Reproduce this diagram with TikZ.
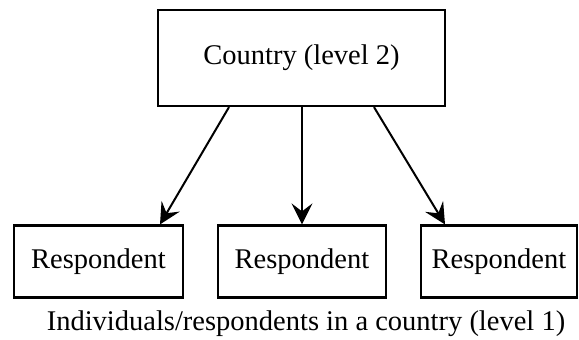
\documentclass[tikz,border=0pt]{standalone}
\usepackage{fontspec}
\setmainfont{Liberation Serif}
\usetikzlibrary{arrows.meta}
\begin{document}
\begin{tikzpicture}[x=1pt,y=-1pt,
  box/.style={draw, line width=2.2pt, inner sep=0pt, font=\fontsize{28.5pt}{34pt}\selectfont},
  conn/.style={line width=2pt, -{Stealth[length=21pt,width=21pt,inset=8pt]}},
  lbl/.style={inner sep=0pt, font=\fontsize{28.5pt}{34pt}\selectfont}]
\useasboundingbox (0,0) rectangle (579,340);
\node[box, minimum width=287pt, minimum height=96pt] (top) at (301.5,58) {Country (level 2)};
\node[box, minimum width=169pt, minimum height=72pt] (L) at (98.5,261.5) {Respondent};
\node[box, minimum width=168pt, minimum height=72pt] (M) at (302,261.5) {Respondent};
\node[box, minimum width=156pt, minimum height=72pt] (R) at (499,261.5) {Respondent};
\node[lbl, anchor=base] (cap) at (306,330) {Individuals/respondents in a country (level 1)};
\draw[conn] ([xshift=-72.5pt]top.south) -- ([xshift=61.5pt]L.north);
\draw[conn] (top.south -| M.north) -- (M.north);
\draw[conn] ([xshift=72.5pt]top.south) -- ([xshift=-54pt]R.north);
\end{tikzpicture}
\end{document}
